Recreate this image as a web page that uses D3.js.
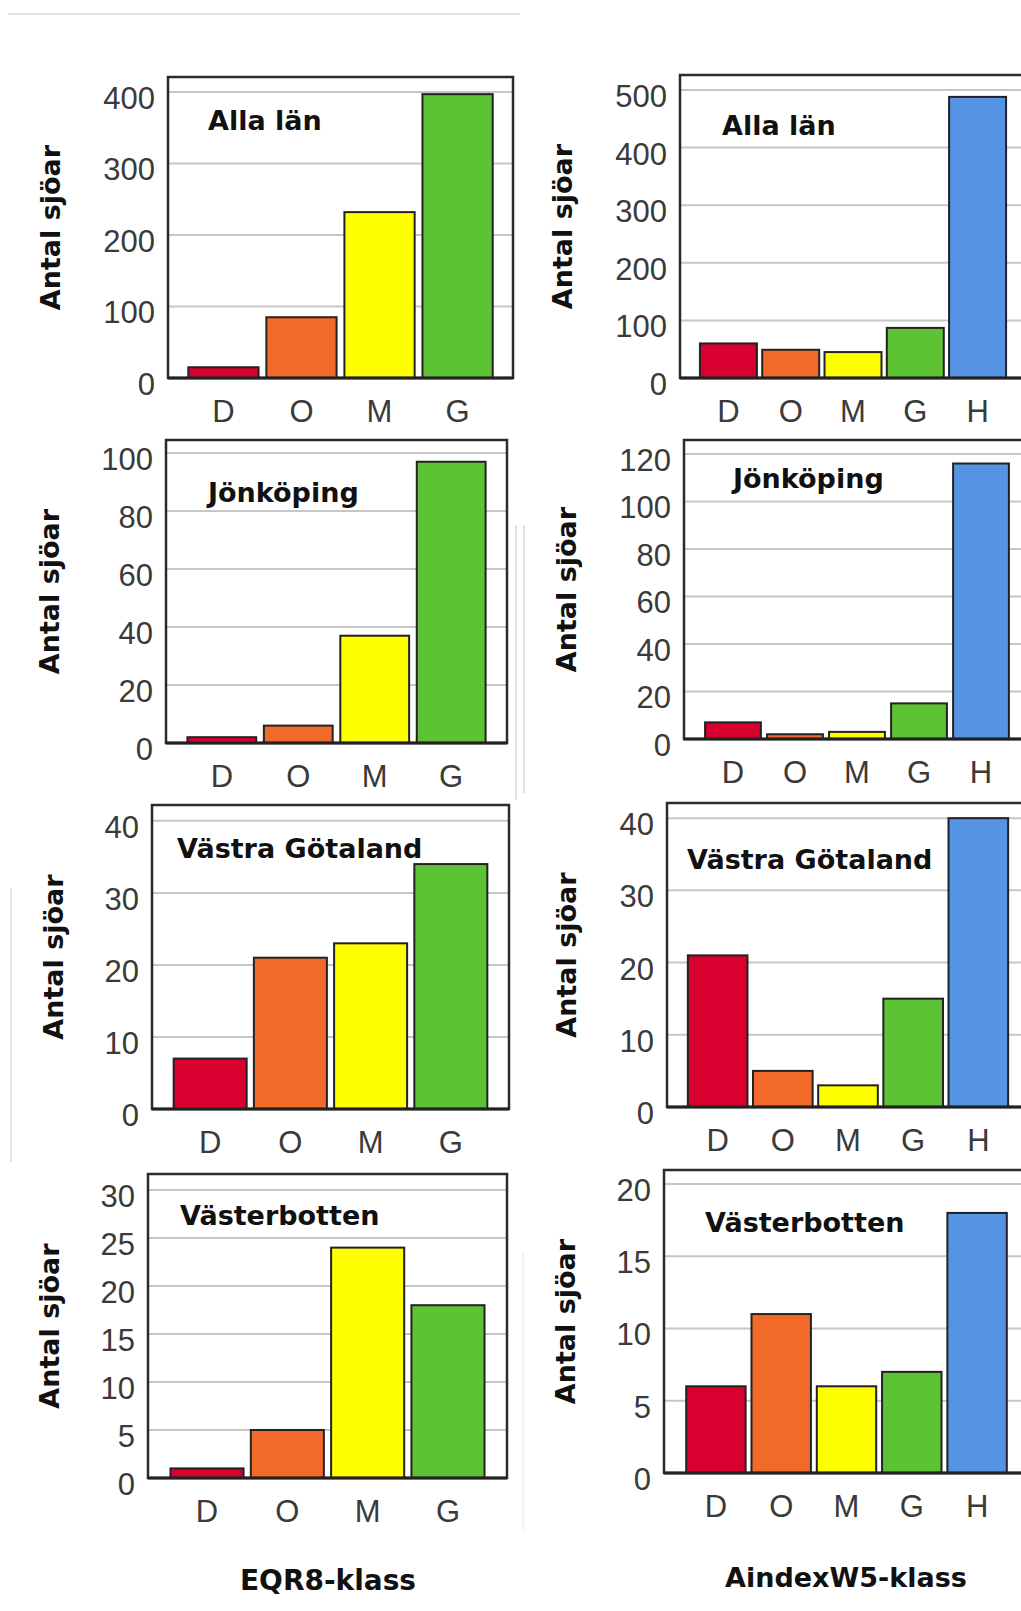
<!DOCTYPE html>
<html>
<head>
<meta charset="utf-8">
<script src="https://cdn.jsdelivr.net/npm/d3@7"></script>
<style>
  html, body { margin: 0; padding: 0; background: #ffffff; }
  svg { display: block; }
</style>
</head>
<body>
<div id="chart"></div>
<script>
// ---------------- DATA ----------------
const eqrClasses    = ["D", "O", "M", "G"];
const aindexClasses = ["D", "O", "M", "G", "H"];
const regionNames   = ["Alla län", "Jönköping", "Västra Götaland", "Västerbotten"];

// EQR8-klass (left column)
const eqrAllaLan        = [15, 85, 232, 397];
const eqrJonkoping      = [2, 6, 37, 97];
const eqrVastraGotaland = [7, 21, 23, 34];
const eqrVasterbotten   = [1, 5, 24, 18];

// AindexW5-klass (right column)
const aixAllaLan        = [60, 49, 45, 87, 488];
const aixJonkoping      = [7, 2, 3, 15, 116];
const aixVastraGotaland = [21, 5, 3, 15, 40];
const aixVasterbotten   = [6, 11, 6, 7, 18];

// Y tick labels
const ticksEqrAlla   = [0, 100, 200, 300, 400];
const ticksEqrJon    = [0, 20, 40, 60, 80, 100];
const ticksEqrVG     = [0, 10, 20, 30, 40];
const ticksEqrVB     = [0, 5, 10, 15, 20, 25, 30];
const ticksAixAlla   = [0, 100, 200, 300, 400, 500];
const ticksAixJon    = [0, 20, 40, 60, 80, 100, 120];
const ticksAixVG     = [0, 10, 20, 30, 40];
const ticksAixVB     = [0, 5, 10, 15, 20];

const yAxisLabel = "Antal sjöar";
const xTitleEqr  = "EQR8-klass";
const xTitleAix  = "AindexW5-klass";

// ---------------- STYLE ----------------
const classColors = { D: "#d7002e", O: "#f26a2a", M: "#ffff00", G: "#5ec235", H: "#5594e4" };
const boldFont = "'DejaVu Sans', Verdana, sans-serif";
const tickFont = "'Liberation Sans', Arial, sans-serif";
const tickSize = 31;

// ---------------- LAYOUT (frame boxes, axis extents) ----------------
const panels = [
  { cats: eqrClasses,    vals: eqrAllaLan,        ticks: ticksEqrAlla, title: regionNames[0], ymax: 421,   box: [168, 77, 513, 378],    pOuter: 0.26, pInner: 0.1,   title_xy: [208, 130],  ylab_x: 60 },
  { cats: aindexClasses, vals: aixAllaLan,        ticks: ticksAixAlla, title: regionNames[0], ymax: 526,   box: [680, 75, 1026, 378],   pOuter: 0.32, pInner: 0.085, title_xy: [722, 135],  ylab_x: 572 },
  { cats: eqrClasses,    vals: eqrJonkoping,      ticks: ticksEqrJon,  title: regionNames[1], ymax: 104.5, box: [166, 440, 507, 743],   pOuter: 0.28, pInner: 0.1,   title_xy: [208, 502],  ylab_x: 59 },
  { cats: aindexClasses, vals: aixJonkoping,      ticks: ticksAixJon,  title: regionNames[1], ymax: 125.9, box: [684, 440, 1030, 739],  pOuter: 0.34, pInner: 0.1,   title_xy: [733, 488],  ylab_x: 576 },
  { cats: eqrClasses,    vals: eqrVastraGotaland, ticks: ticksEqrVG,   title: regionNames[2], ymax: 42.2,  box: [152, 805, 509, 1109],  pOuter: 0.27, pInner: 0.09,  title_xy: [177, 858],  ylab_x: 63 },
  { cats: aindexClasses, vals: aixVastraGotaland, ticks: ticksAixVG,   title: regionNames[2], ymax: 42.1,  box: [667, 803, 1029, 1107], pOuter: 0.32, pInner: 0.085, title_xy: [687, 869],  ylab_x: 576 },
  { cats: eqrClasses,    vals: eqrVasterbotten,   ticks: ticksEqrVB,   title: regionNames[3], ymax: 31.67, box: [148, 1174, 507, 1478], pOuter: 0.28, pInner: 0.09,  title_xy: [180, 1225], ylab_x: 59 },
  { cats: aindexClasses, vals: aixVasterbotten,   ticks: ticksAixVB,   title: regionNames[3], ymax: 20.97, box: [664, 1170, 1029, 1473], pOuter: 0.34, pInner: 0.09, title_xy: [705, 1232], ylab_x: 575 }
];

const W = 1021, H = 1611;
const svg = d3.select("#chart").append("svg")
  .attr("width", W).attr("height", H)
  .attr("viewBox", `0 0 ${W} ${H}`);

svg.append("rect").attr("width", W).attr("height", H).attr("fill", "#ffffff");

// faint page artifacts (separator lines in the source collage)
const deco = svg.append("g").attr("stroke", "#d9d9d9").attr("stroke-width", 1.5).attr("fill", "none");
deco.append("line").attr("x1", 8).attr("x2", 520).attr("y1", 14).attr("y2", 14);
deco.append("line").attr("x1", 516).attr("x2", 516).attr("y1", 525).attr("y2", 800);
deco.append("line").attr("x1", 524).attr("x2", 524).attr("y1", 525).attr("y2", 793);
deco.append("line").attr("x1", 11).attr("x2", 11).attr("y1", 888).attr("y2", 1162);
deco.append("line").attr("x1", 523).attr("x2", 523).attr("y1", 1253).attr("y2", 1530).attr("stroke", "#eeeeee");

panels.forEach(p => {
  const [x0, y0, x1, y1] = p.box;
  const g = svg.append("g");

  const x = d3.scaleBand().domain(p.cats).range([x0, x1])
    .paddingInner(p.pInner).paddingOuter(p.pOuter);
  const y = d3.scaleLinear().domain([0, p.ymax]).range([y1, y0]);

  // gridlines
  g.append("g").selectAll("line")
    .data(p.ticks.filter(t => t > 0))
    .join("line")
    .attr("x1", x0).attr("x2", x1)
    .attr("y1", d => y(d)).attr("y2", d => y(d))
    .attr("stroke", "#c6c6c6").attr("stroke-width", 2);

  // bars
  g.append("g").selectAll("rect")
    .data(p.cats.map((c, i) => ({ c, v: p.vals[i] })))
    .join("rect")
    .attr("x", d => x(d.c))
    .attr("width", x.bandwidth())
    .attr("y", d => y(d.v))
    .attr("height", d => y(0) - y(d.v))
    .attr("fill", d => classColors[d.c])
    .attr("stroke", "#222222")
    .attr("stroke-width", 2);

  // frame
  g.append("rect")
    .attr("x", x0).attr("y", y0)
    .attr("width", x1 - x0).attr("height", y1 - y0)
    .attr("fill", "none").attr("stroke", "#2b2b2b").attr("stroke-width", 2.5);
  g.append("line").attr("x1", x0).attr("x2", x1).attr("y1", y1).attr("y2", y1)
    .attr("stroke", "#222").attr("stroke-width", 3);

  // y axis
  const ya = g.append("g").attr("transform", `translate(${x0},0)`)
    .call(d3.axisLeft(y).tickValues(p.ticks).tickSize(0).tickPadding(13).tickFormat(d3.format("d")));
  ya.select(".domain").remove();
  ya.selectAll("text")
    .attr("dy", "0.53em")
    .style("font-family", tickFont).style("font-size", tickSize + "px").attr("fill", "#3a3a3a");

  // x axis
  const xa = g.append("g").attr("transform", `translate(0,${y1})`)
    .call(d3.axisBottom(x).tickSize(0).tickPadding(21.5));
  xa.select(".domain").remove();
  xa.selectAll("text")
    .style("font-family", tickFont).style("font-size", tickSize + "px").attr("fill", "#3a3a3a");

  // panel title
  g.append("text")
    .attr("x", p.title_xy[0]).attr("y", p.title_xy[1])
    .style("font-family", boldFont).style("font-weight", "bold").style("font-size", "27px")
    .attr("fill", "#111")
    .text(p.title);

  // y axis label
  g.append("text")
    .attr("transform", `translate(${p.ylab_x},${(y0 + y1) / 2}) rotate(-90)`)
    .attr("text-anchor", "middle")
    .style("font-family", boldFont).style("font-weight", "bold").style("font-size", "27px")
    .attr("fill", "#111")
    .text(yAxisLabel);
});

// x axis titles
svg.append("text").attr("x", 328).attr("y", 1590).attr("text-anchor", "middle")
  .style("font-family", boldFont).style("font-weight", "bold").style("font-size", "28px")
  .attr("fill", "#111").text(xTitleEqr);
svg.append("text").attr("x", 846).attr("y", 1587).attr("text-anchor", "middle")
  .style("font-family", boldFont).style("font-weight", "bold").style("font-size", "27px")
  .attr("fill", "#111").text(xTitleAix);
</script>
</body>
</html>
